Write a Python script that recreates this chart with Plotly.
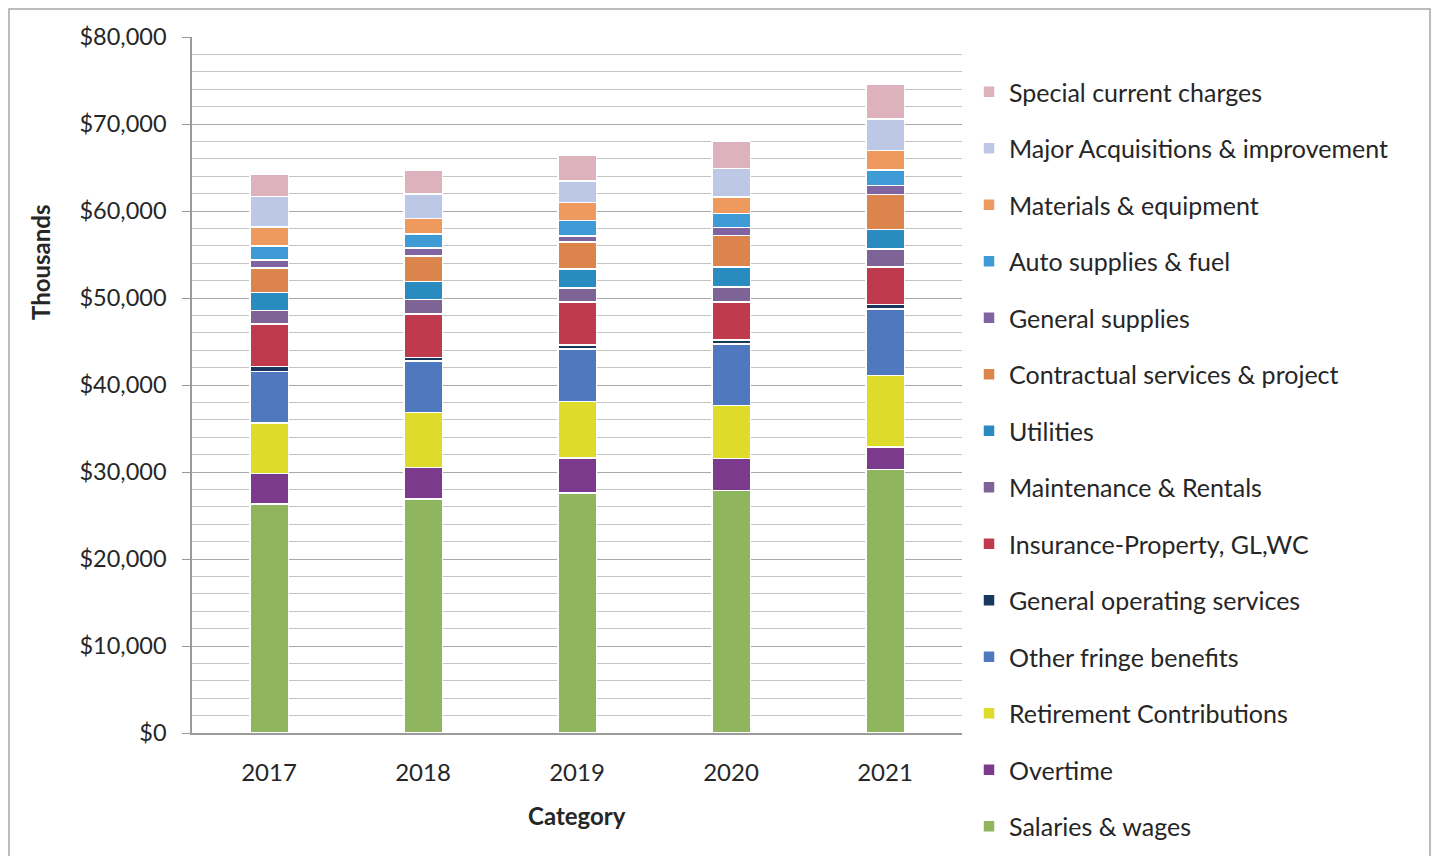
import plotly.graph_objects as go

years = ["2017", "2018", "2019", "2020", "2021"]

# values in thousands of dollars (bottom to top)
salaries = [26300, 26900, 27600, 27850, 30270]
overtime = [3500, 3640, 4000, 3680, 2600]
retirement = [5850, 6310, 6480, 6090, 8210]
other_fringe = [5900, 5920, 6040, 7070, 7650]
general_operating = [560, 420, 500, 500, 500]
insurance = [4900, 5000, 4920, 4350, 4350]
maintenance = [1540, 1620, 1610, 1730, 2030]
utilities = [2110, 2110, 2200, 2270, 2290]
contractual = [2810, 2930, 3060, 3670, 4010]
general_supplies = [890, 880, 730, 880, 1030]
auto_supplies = [1640, 1640, 1750, 1640, 1750]
materials = [2180, 1750, 2060, 1870, 2260]
major_acquisitions = [3470, 2860, 2490, 3290, 3620]
special_charges = [2630, 2680, 2970, 3130, 4010]

series = [
    ("Salaries & wages", salaries, "#8FB65E"),
    ("Overtime", overtime, "#7B3A8C"),
    ("Retirement Contributions", retirement, "#DEDB2A"),
    ("Other fringe benefits", other_fringe, "#4F78BE"),
    ("General operating services", general_operating, "#17375E"),
    ("Insurance-Property, GL,WC", insurance, "#BE3A4C"),
    ("Maintenance & Rentals", maintenance, "#7E6496"),
    ("Utilities", utilities, "#2A8BC0"),
    ("Contractual services & project", contractual, "#DB844C"),
    ("General supplies", general_supplies, "#8064A2"),
    ("Auto supplies & fuel", auto_supplies, "#3E9BD5"),
    ("Materials & equipment", materials, "#EE9A5E"),
    ("Major Acquisitions & improvement", major_acquisitions, "#BCC8E6"),
    ("Special current charges", special_charges, "#DEB2BC"),
]

FONT = "Lato, 'Open Sans', sans-serif"
TXT = "#262626"

W, H = 1443, 856
PAGE_OFF = 8  # default body margin of the html page


def fx(x):
    # page pixel -> paper x (margins are zero, so paper == figure)
    return (x - PAGE_OFF) / W


def fy(y):
    return 1 - (y - PAGE_OFF) / H


fig = go.Figure()
n = len(series)
for i, (name, vals, color) in enumerate(series):
    fig.add_trace(
        go.Bar(
            name=name,
            x=years,
            y=vals,
            legendgroup=f"g{i}",
            legendrank=n - i,
            marker=dict(color=color, line=dict(color="white", width=1.5)),
        )
    )

fig.update_layout(
    width=W,
    height=H,
    barmode="stack",
    bargap=0.75,
    margin=dict(l=0, r=0, t=0, b=0),
    paper_bgcolor="white",
    plot_bgcolor="white",
    font=dict(family=FONT, size=22, color=TXT),
    showlegend=True,
    legend=dict(
        x=fx(969),
        y=fy(69),
        xanchor="left",
        yanchor="top",
        traceorder="grouped",
        tracegroupgap=21,
        itemwidth=30,
        font=dict(family=FONT, size=25, color=TXT),
        bgcolor="rgba(0,0,0,0)",
    ),
    xaxis=dict(
        domain=[fx(192), fx(962)],
        automargin=False,
        showline=True,
        linecolor="#9A9A9A",
        linewidth=1.5,
        showgrid=False,
        ticks="",
        ticklabelstandoff=17,
        tickfont=dict(size=24, color=TXT),
    ),
    yaxis=dict(
        domain=[fy(733), fy(37)],
        automargin=False,
        range=[0, 80000],
        dtick=10000,
        tickformat="$,.0f",
        showline=True,
        linecolor="#9A9A9A",
        linewidth=1.5,
        showgrid=True,
        gridcolor="#A8A8A8",
        gridwidth=1.2,
        ticks="outside",
        ticklen=8,
        tickcolor="#9A9A9A",
        ticklabelstandoff=11,
        tickfont=dict(size=23.5, color=TXT),
        zeroline=False,
        minor=dict(dtick=2000, showgrid=True, gridcolor="#C4C4C4", gridwidth=1),
    ),
)

fig.add_annotation(
    text="<b>Thousands</b>",
    x=fx(40), y=fy(263),
    xref="paper", yref="paper",
    xanchor="center", yanchor="middle",
    textangle=-90, showarrow=False,
    font=dict(size=24, color=TXT),
)
fig.add_annotation(
    text="<b>Category</b>",
    x=fx(577), y=fy(815),
    xref="paper", yref="paper",
    xanchor="center", yanchor="middle",
    showarrow=False,
    font=dict(size=24, color=TXT),
)

# outer chart frame
fig.add_shape(
    type="rect",
    xref="paper", yref="paper",
    x0=fx(9), x1=fx(1430), y0=fy(880), y1=fy(9),
    line=dict(color="#A6A6A6", width=1.5),
    layer="below",
)

fig.write_html("out.html")
